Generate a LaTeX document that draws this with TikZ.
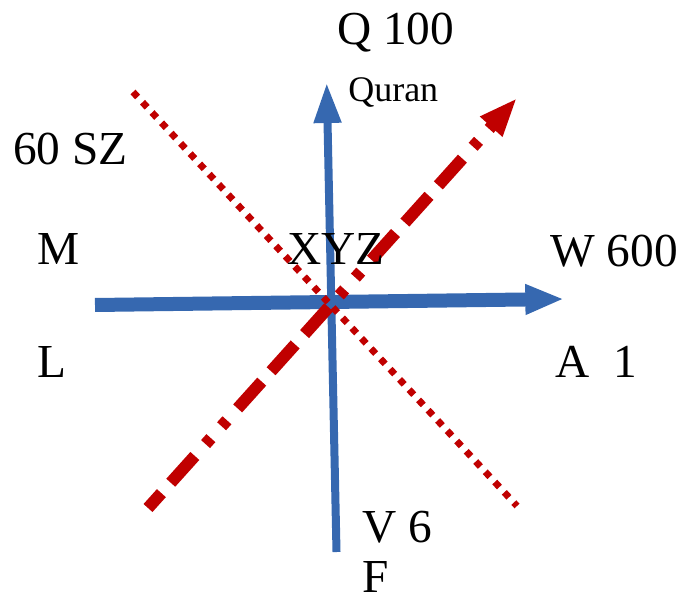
\documentclass[tikz,border=0pt]{standalone}
\usepackage{fontspec}
\setmainfont{Liberation Serif}
\usetikzlibrary{arrows.meta}
\definecolor{axisblue}{RGB}{54,104,176}
\definecolor{darkred}{RGB}{192,0,0}
\begin{document}
\begin{tikzpicture}[x=0.75pt,y=-0.75pt,
  lbl/.style={anchor=base west,inner sep=0pt,font=\fontsize{35.5}{40}\selectfont},
  smalllbl/.style={anchor=base west,inner sep=0pt,font=\fontsize{27}{30}\selectfont},
  bluearrow/.style={draw=axisblue,line cap=butt},
  dashredarrow/.style={draw=darkred,line width=9pt,
    dash pattern=on 27pt off 10.5pt on 27pt off 12pt on 6pt off 12pt on 6pt off 12pt on 27pt off 10.5pt,
    dash phase=12pt,-{Triangle[length=29pt,width=20.5pt]}},
  dotredline/.style={draw=darkred,line width=5.1pt,dash pattern=on 5.1pt off 5.4pt}]
\useasboundingbox (0,0) rectangle (677,598);
% end points
\coordinate (vbot) at (336.5,552);
\coordinate (vtop) at (326.7,83);
\coordinate (hleft) at (95,305);
\coordinate (hright) at (564,299);
\coordinate (dstart) at (133,92);
\coordinate (dend) at (517,506);
\coordinate (rstart) at (148,508);
\coordinate (rend) at (517,98);
% blue axes
\draw[bluearrow,line width=6pt,-{Triangle[length=30pt,width=19.5pt]}] (vbot) -- (vtop);
\draw[bluearrow,line width=10.5pt,-{Triangle[length=29pt,width=21pt]}] (hleft) -- (hright);
% red lines
\draw[dotredline] (dstart) -- (dend);
\draw[dashredarrow] (rstart) -- (rend);
% labels
\node[lbl] (q) at (337,45) {Q 100};
\node[smalllbl] (quran) at (348,102) {Quran};
\node[lbl] (sz) at (13,165) {60 SZ};
\node[lbl] (m) at (37,265) {M};
\node[lbl] (xyz) at (287,265) {XYZ};
\node[lbl] (w) at (550,267) {W 600};
\node[lbl] (l) at (37,377) {L};
\node[lbl] (a) at (555,377) {A~~1};
\node[lbl] (v) at (362,542) {V 6};
\node[lbl] (f) at (362,592) {F};
\end{tikzpicture}
\end{document}
